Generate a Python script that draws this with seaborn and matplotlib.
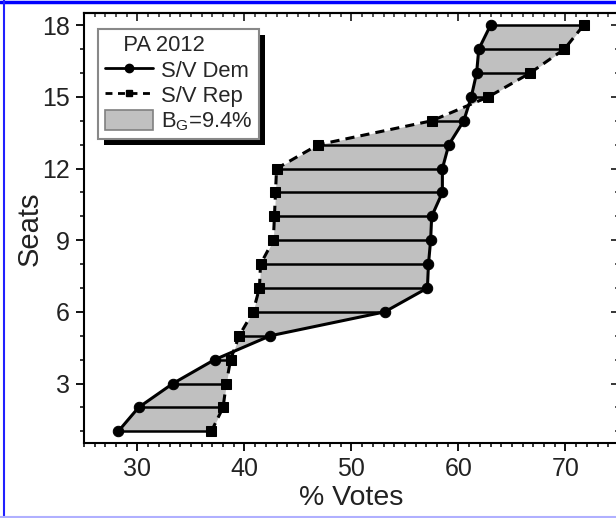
import matplotlib
matplotlib.use("Agg")
import matplotlib.pyplot as plt
import seaborn as sns
from matplotlib.lines import Line2D
from matplotlib.patches import Patch, Rectangle
from matplotlib.ticker import MultipleLocator
from matplotlib.transforms import IdentityTransform

# Seats vs. vote share, PA 2012
seats = list(range(1, 19))
dem_votes = [28.2, 30.1, 33.3, 37.2, 42.4, 53.1, 57.1, 57.2, 57.4, 57.5,
             58.5, 58.5, 59.1, 60.5, 61.2, 61.7, 61.9, 63.0]
rep_votes = [36.9, 38.0, 38.3, 38.7, 39.5, 40.8, 41.4, 41.5, 42.7, 42.8,
             42.9, 43.0, 46.9, 57.5, 62.8, 66.7, 69.9, 71.7]
x_ticks = [30, 40, 50, 60, 70]
y_ticks = [3, 6, 9, 12, 15, 18]

sns.set_style("ticks")
plt.rcParams["font.family"] = ["Liberation Sans", "DejaVu Sans"]

fig = plt.figure(figsize=(6.16, 5.18), dpi=100)
ax = fig.add_axes([84 / 616, (518 - 443.3) / 518, (618.9 - 84) / 616, 430 / 518])

grey = "#c0c0c0"
ax.fill_betweenx(seats, dem_votes, rep_votes, color=grey, lw=0, zorder=1)
ax.hlines(seats, dem_votes, rep_votes, color="black", lw=1.8, zorder=2)

sns.lineplot(x=dem_votes, y=seats, sort=False, estimator=None, ax=ax,
             color="black", lw=2.2, marker="o", markersize=7.5,
             markeredgecolor="black", zorder=3)
sns.lineplot(x=rep_votes, y=seats, sort=False, estimator=None, ax=ax,
             color="black", lw=2.2, linestyle=(0, (3, 2)), marker="s",
             markersize=6.5, markeredgecolor="black", zorder=3)

ax.set_xlim(25, 75)
ax.set_ylim(0.5, 18.5)
ax.set_xticks(x_ticks)
ax.set_yticks(y_ticks)
ax.xaxis.set_minor_locator(MultipleLocator(1))
ax.yaxis.set_minor_locator(MultipleLocator(1))
ax.tick_params(which="major", direction="out", length=6, width=1.3,
               labelsize=18, color="black", labelcolor="#222222", pad=4)
ax.tick_params(which="minor", direction="out", length=3, width=1.1, color="black")

# inward ticks on top and right
top = ax.secondary_xaxis("top")
top.set_xticks(x_ticks)
top.xaxis.set_minor_locator(MultipleLocator(1))
top.tick_params(which="major", direction="in", length=6, width=1.3, labeltop=False)
top.tick_params(which="minor", direction="in", length=3, width=1.1)
top.spines["top"].set_linewidth(1.5)
right = ax.secondary_yaxis("right")
right.set_yticks(y_ticks)
right.yaxis.set_minor_locator(MultipleLocator(1))
right.tick_params(which="major", direction="in", length=6, width=1.3, labelright=False)
right.tick_params(which="minor", direction="in", length=3, width=1.1)

for s in ax.spines.values():
    s.set_linewidth(1.5)
    s.set_color("black")

ax.set_xlabel("% Votes", fontsize=20.5, color="#222222", labelpad=3)
ax.set_ylabel("Seats", fontsize=21, color="#222222", labelpad=-1)

handles = [
    Line2D([], [], color="black", lw=2, marker="o", markersize=6),
    Line2D([], [], color="black", lw=2, linestyle=(0, (2.5, 2)), marker="s", markersize=5),
    Patch(facecolor=grey, edgecolor="#808080", lw=1.2),
]
labels = ["S/V Dem", "S/V Rep", "B$_\\mathregular{G}$=9.4%"]
leg = ax.legend(handles, labels, title="   PA 2012", loc="upper left",
                bbox_to_anchor=(0.027, 0.964), borderaxespad=0, fontsize=15.8,
                title_fontsize=15.8, alignment="left", frameon=True, fancybox=False,
                framealpha=1, edgecolor="#888888", handlelength=2.2,
                handleheight=1.05, handletextpad=0.35, labelspacing=0.12,
                borderpad=0.3)
leg.get_frame().set_linewidth(1.5)
leg.set_zorder(6)

# drop shadow behind the legend box
fig.canvas.draw()
bb = leg.get_window_extent()
ax.add_patch(Rectangle((bb.x0 + 6, bb.y0 - 6), bb.width, bb.height,
                       transform=IdentityTransform(), facecolor="black",
                       edgecolor="none", zorder=5.5, clip_on=False))

# blue frame around the picture
fig.add_artist(Line2D([0, 1], [1 - 1.5 / 518] * 2, color="#0000ff", lw=2.5,
                      transform=fig.transFigure))
fig.add_artist(Line2D([4 / 616] * 2, [0, 1], color="#2020ff", lw=1.5,
                      transform=fig.transFigure))
fig.add_artist(Line2D([0, 1], [1 / 518] * 2, color="#b0b0ff", lw=1.5,
                      transform=fig.transFigure))

fig.savefig("out.png", dpi=100)
